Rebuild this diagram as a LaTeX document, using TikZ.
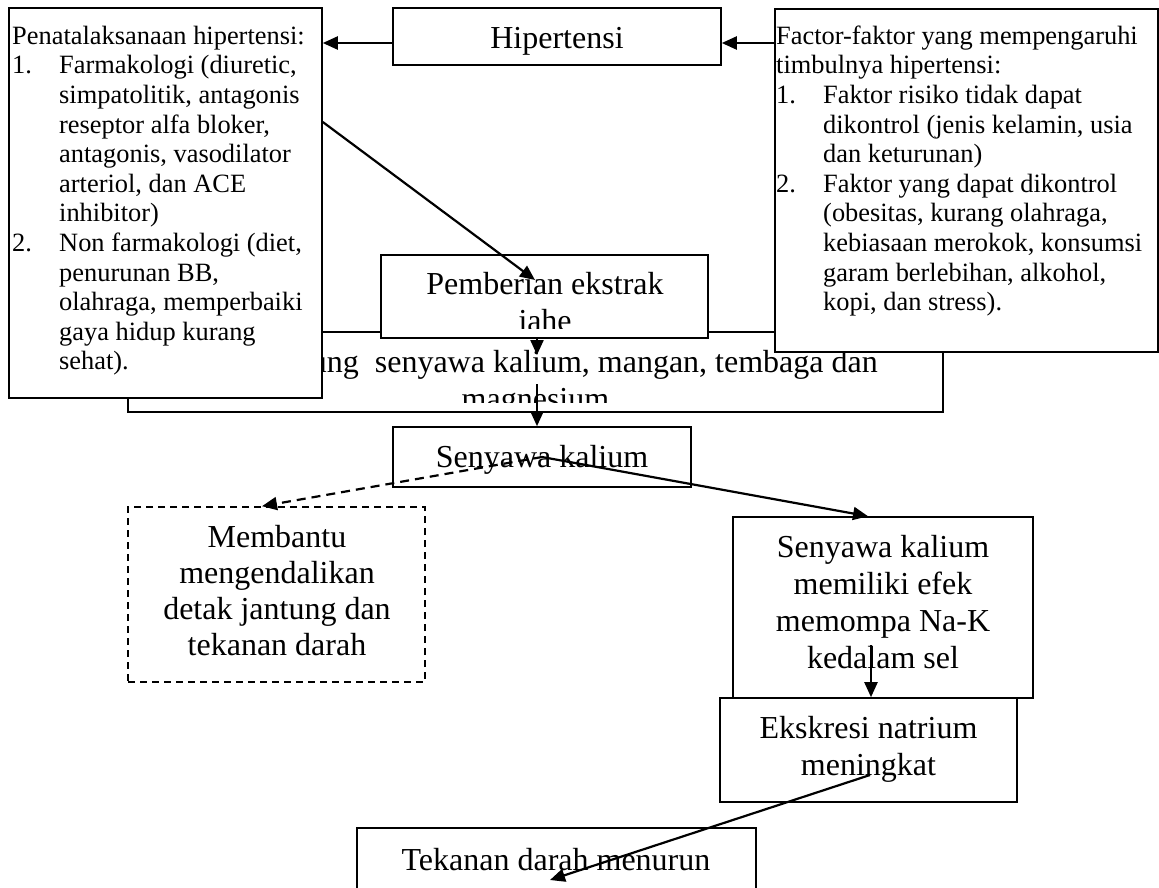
\documentclass[tikz,border=0pt]{standalone}
\usepackage{fontspec}
\setmainfont{Liberation Serif}
\usetikzlibrary{arrows.meta,calc}
\newcommand{\fsm}{\fontsize{26.4pt}{29.6pt}\selectfont}
\newcommand{\fbg}{\fontsize{32pt}{37pt}\selectfont}
\newcommand{\fbgm}{\fontsize{32pt}{36pt}\selectfont}
\newcommand{\itm}[1]{\makebox[47pt][l]{#1}}
\newcommand{\ind}{\hspace*{47pt}}
\begin{document}
\begin{tikzpicture}[x=1pt,y=-1pt,
  boxnode/.style={draw, line width=1.6pt, fill=white, rectangle, inner sep=0pt},
  dbox/.style={boxnode, dash pattern=on 7pt off 5pt},
  txt/.style={inner sep=0pt, font=\fbg},
  mtxt/.style={inner sep=0pt, align=center, anchor=north},
  ltxt/.style={inner sep=0pt, font=\fsm, align=left, anchor=north west},
  arr/.style={line width=2.2pt, -{Triangle[length=15pt,width=13pt]}},
  darr/.style={arr, dash pattern=on 9pt off 6pt}
]
\useasboundingbox (0,0) rectangle (1159,887);
\clip (0,0) rectangle (1159,887);

% big box behind
\node[boxnode, minimum width=815pt, minimum height=80pt] (mgd) at (535.5,372) {};
\begin{scope}
\clip (mgd.north west) rectangle ($(mgd.south east)+(0,-10)$);
\node[txt, anchor=base east] (mgd1) at (878,372) {ung\ \ senyawa kalium, mangan, tembaga dan};
\node[txt, anchor=base] (mgd2) at (535.5,409) {magnesium};
\end{scope}

% Pemberian ekstrak jahe
\node[boxnode, minimum width=327pt, minimum height=83pt] (pem) at (544.5,296.5) {};
\begin{scope}
\clip (pem.north west) rectangle ($(pem.south east)+(0,-10)$);
\node[txt, anchor=base] (pem1) at (545,294) {Pemberian ekstrak};
\node[txt, anchor=base] (pem2) at (545,331) {jahe};
\end{scope}

% left box
\node[boxnode, minimum width=313pt, minimum height=390pt] (pen) at (165.5,203) {};
\node[ltxt] (pent) at (12,22) {\rule{0pt}{22pt}Penatalaksanaan hipertensi:\\
\itm{1.}Farmakologi (diuretic,\\
\ind simpatolitik, antagonis\\
\ind reseptor alfa bloker,\\
\ind antagonis, vasodilator\\
\ind arteriol, dan ACE\\
\ind inhibitor)\\
\itm{2.}Non farmakologi (diet,\\
\ind penurunan BB,\\
\ind olahraga, memperbaiki\\
\ind gaya hidup kurang\\
\ind sehat).};

% right box
\node[boxnode, minimum width=383pt, minimum height=343pt] (fac) at (966.5,180.5) {};
\node[ltxt] (fact) at (776,22) {\rule{0pt}{22pt}Factor-faktor yang mempengaruhi\\
timbulnya hipertensi:\\
\itm{1.}Faktor risiko tidak dapat\\
\ind dikontrol (jenis kelamin, usia\\
\ind dan keturunan)\\
\itm{2.}Faktor yang dapat dikontrol\\
\ind (obesitas, kurang olahraga,\\
\ind kebiasaan merokok, konsumsi\\
\ind garam berlebihan, alkohol,\\
\ind kopi, dan stress).};

% Hipertensi
\node[boxnode, minimum width=328pt, minimum height=57pt] (hip) at (557,36.5) {};
\node[txt, anchor=base] (hipt) at (557,48) {Hipertensi};

% upper arrows
\coordinate (yh) at (0,43);
\draw[arr] (hip.west |- yh) -- (pen.east |- yh);
\draw[arr] (fac.west |- yh) -- (hip.east |- yh);
\coordinate (ps) at (0,122);
\coordinate (pemtip) at (535,280);
\draw[arr] (pen.east |- ps) -- (pemtip);
\coordinate (vx) at (537,0);
\coordinate (mgdtip) at (537,355);
\draw[arr] (pem.south -| vx) -- (mgdtip);

% Senyawa kalium
\node[boxnode, minimum width=298pt, minimum height=60pt] (sk) at (542,457) {};
\node[txt, anchor=base] (skt) at (542,467) {Senyawa kalium};
\coordinate (mgdout) at (537,384);
\draw[arr] (mgdout) -- (sk.north -| vx);

% Membantu
\node[dbox, minimum width=297pt, minimum height=175pt] (mem) at (276.5,594.5) {};
\node[mtxt, font=\fbgm] (memt) at (277,521) {\rule{0pt}{26pt}Membantu\\mengendalikan\\detak jantung dan\\tekanan darah};

% Senyawa kalium memiliki efek
\node[boxnode, minimum width=300pt, minimum height=181pt] (skm) at (883,607.5) {};
\node[mtxt, font=\fbg] (skmt) at (883,531) {\rule{0pt}{26pt}Senyawa kalium\\memiliki efek\\memompa Na-K\\kedalam sel};

% Ekskresi
\node[boxnode, minimum width=297pt, minimum height=104pt] (eks) at (868.5,750) {};
\node[mtxt, font=\fbg] (ekst) at (868.5,712) {\rule{0pt}{26pt}Ekskresi natrium\\meningkat};

% Tekanan
\node[boxnode, minimum width=399pt, minimum height=92pt] (tek) at (556.5,874) {};
\node[txt, anchor=base] (tekt) at (556,870) {Tekanan darah menurun};

% lower arrows
\coordinate (memx) at (262,0);
\draw[darr] (sk.center) -- (mem.north -| memx);
\coordinate (skmx) at (868,0);
\draw[arr] (sk.center) -- (skm.north -| skmx);
\coordinate (skmout) at (871,645);
\draw[arr] (skmout) -- (eks.north -| skmout);
\coordinate (eksout) at (870,775);
\coordinate (tektip) at (550,880);
\draw[arr] (eksout) -- (tektip);
\end{tikzpicture}
\end{document}
